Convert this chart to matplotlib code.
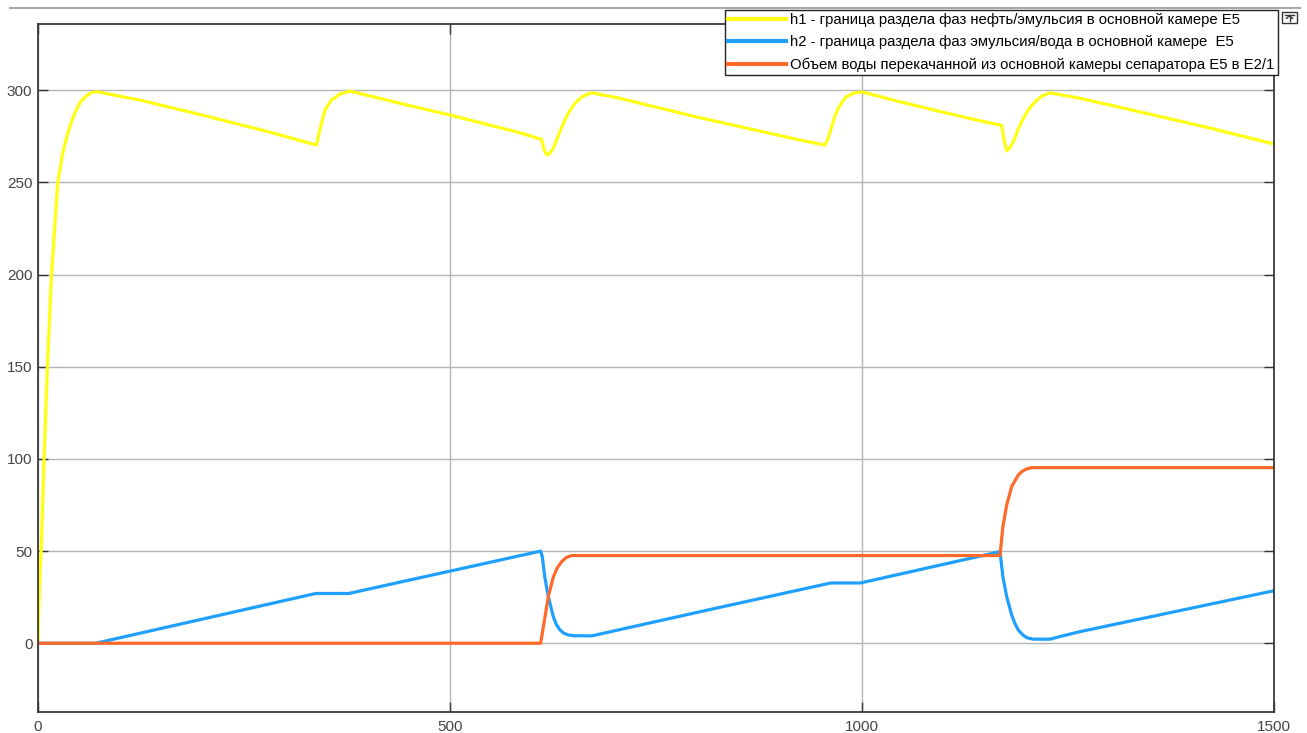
import matplotlib
matplotlib.use("Agg")
import matplotlib.pyplot as plt
from matplotlib.lines import Line2D
from matplotlib.patches import Rectangle

plt.rcParams['font.family'] = ['Liberation Sans', 'DejaVu Sans']

# h1 - oil/emulsion interface (time, level)
h1_t = [0, 1, 2.5, 3.8, 7.4, 11.4, 16.4, 24, 30, 35.3, 41, 46.5, 52, 57.7, 64, 71,
        125, 200, 280, 338, 342, 348, 356, 366.5, 378.6, 439, 500, 585, 611,
        614, 617.4, 621, 625.4, 631, 637.5, 644, 651.7, 661, 672, 706, 730.6,
        800, 880, 925, 955, 959, 963, 967, 971, 976, 981, 990, 999.6, 1046,
        1100, 1143, 1169.5, 1172.5, 1175.6, 1179, 1183.6, 1189, 1195.8, 1202,
        1210, 1218, 1228, 1264.6, 1350, 1420, 1500]
h1_v = [0, 20, 38, 50, 100, 150, 200, 250, 266, 275.4, 283.5, 289.5, 294, 296.6, 298.6, 299.3,
        294.6, 286.5, 277.5, 270.3, 278.5, 289, 294.7, 298, 299.6, 293, 286.6, 277, 273.4,
        268, 265, 265.8, 268.5, 275, 282, 288, 293, 296.8, 298.7, 295.7, 293,
        285.5, 277.5, 273, 270.3, 274, 280, 286, 290, 293.8, 296.5, 298.5, 299.2, 293.8,
        288, 283.5, 281, 273, 267.2, 268.5, 272, 278.5, 284.8, 289.5,
        293.8, 296.8, 298.7, 295.7, 287, 279.8, 270.9]

# h2 - emulsion/water interface
h2_t = [0, 70, 337, 377, 610, 612, 615, 619.3, 625.4, 629, 633.5, 638, 643.6, 650, 672,
        803.4, 962, 998, 1167.5, 1171, 1175.6, 1181.6, 1185.5, 1189.7, 1195, 1200, 1208,
        1228, 1240, 1264.6, 1500]
h2_v = [0, 0, 27, 27, 50, 47, 36, 25.3, 14.4, 10.2, 7.2, 5.5, 4.5, 4.1, 4,
        17.1, 32.7, 32.7, 49.7, 36, 25.3, 15.4, 10.8, 7.2, 4.6, 3.0, 2.2,
        2.2, 3.6, 6.3, 28.5]

# pumped water volume
vol_t = [0, 610, 614, 619.3, 625.4, 630, 635.5, 641, 647.6, 1167.5, 1171, 1175.6,
         1181.6, 1189.7, 1195, 1200, 1206, 1500]
vol_v = [0, 0, 10.8, 25.3, 36, 40.8, 44.3, 46.5, 47.6, 47.6, 63.3, 75,
         85, 91.3, 93.5, 94.6, 95.3, 95.3]

labels = ["h1 - граница раздела фаз нефть/эмульсия в основной камере E5",
          "h2 - граница раздела фаз эмульсия/вода в основной камере  E5",
          "Объем воды перекачанной из основной камеры сепаратора E5 в E2/1"]
colors = ["#ffff14", "#1fa0ff", "#ff6a2a"]

W, H = 1307, 733
fig = plt.figure(figsize=(W / 100, H / 100), dpi=100)
fig.patch.set_facecolor("white")
ax = fig.add_axes([38 / W, 1 - 712 / H, (1274 - 38) / W, (712 - 24) / H])

ax.plot(h1_t, h1_v, color=colors[0], lw=2.3, label=labels[0])
ax.plot(h2_t, h2_v, color=colors[1], lw=2.3, label=labels[1])
ax.plot(vol_t, vol_v, color=colors[2], lw=2.3, label=labels[2])

ax.set_xlim(0, 1500)
ax.set_ylim(-37.3, 336)
ax.set_xticks([0, 500, 1000, 1500])
ax.set_yticks([0, 50, 100, 150, 200, 250, 300])
ax.grid(True, color="#b4b4b4", lw=1)
ax.set_axisbelow(True)
ax.tick_params(direction="in", length=7, width=1, color="#333333",
               labelcolor="#444444", labelsize=11, top=True, right=True, pad=4)
ax.tick_params(axis="x", pad=6)
for s in ax.spines.values():
    s.set_color("#3a3a3a")
    s.set_linewidth(1.3)

leg = ax.legend(loc="upper right", bbox_to_anchor=(1278 / W, 1 - 10 / H),
                bbox_transform=fig.transFigure, borderaxespad=0, fontsize=10.7,
                handlelength=3.9, handletextpad=0.3, labelspacing=0.55,
                borderpad=0.22, fancybox=False, framealpha=1, edgecolor="#222222")
leg.get_frame().set_linewidth(1)
leg.set_zorder(10)
for ln in leg.get_lines():
    ln.set_linewidth(3)

# window separator line and scope button
fig.add_artist(Line2D([10 / W, 1300 / W], [1 - 8 / H, 1 - 8 / H],
                      color="#a8a8a8", lw=1.5, transform=fig.transFigure))
fig.add_artist(Rectangle((1282 / W, 1 - 23 / H), 15 / W, 11 / H, fill=False,
                         edgecolor="#333333", lw=1, transform=fig.transFigure))
fig.add_artist(Line2D([1285 / W, 1294 / W], [1 - 14.5 / H, 1 - 14.5 / H],
                      color="#333333", lw=1, transform=fig.transFigure))
fig.add_artist(Line2D([1289.5 / W, 1289.5 / W], [1 - 21 / H, 1 - 15.5 / H],
                      color="#333333", lw=1, transform=fig.transFigure))
fig.add_artist(Line2D([1286.5 / W, 1289.5 / W, 1292.5 / W], [1 - 18.5 / H, 1 - 15.5 / H, 1 - 18.5 / H],
                      color="#333333", lw=1, transform=fig.transFigure))

fig.savefig("out.png", dpi=100)
